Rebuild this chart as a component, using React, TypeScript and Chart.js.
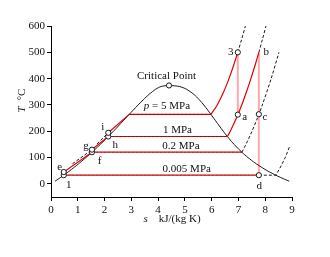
import { useEffect, useRef } from 'react';
import { Chart, registerables } from 'chart.js';

Chart.register(...registerables);

// ---- axes ----
const xTicks = [0, 1, 2, 3, 4, 5, 6, 7, 8, 9];
const yTicks = [0, 100, 200, 300, 400, 500, 600];

// ---- saturation dome (steam tables) ----
const satT = [10, 20, 30, 40, 50, 60, 80, 100, 120, 140, 160, 180, 200, 220, 240, 260, 280, 300, 320, 340, 360, 370, 373.95];
const satLiqS = [0.151, 0.2966, 0.4369, 0.5724, 0.7038, 0.8313, 1.0753, 1.3069, 1.5276, 1.7391, 1.9427, 2.1396, 2.3309, 2.5178, 2.7015, 2.8838, 3.0668, 3.2534, 3.448, 3.6594, 3.9147, 4.1106, 4.407];
const satVapS = [8.9008, 8.6672, 8.452, 8.2569, 8.0763, 7.9096, 7.6122, 7.3549, 7.1296, 6.9299, 6.7502, 6.5857, 6.4323, 6.2861, 6.1437, 6.0019, 5.8571, 5.7045, 5.5362, 5.3357, 5.0526, 4.8012, 4.407];

// ---- isobars ----
// 5 MPa
const p5LiqS = [2.1387, 2.9202];
const p5LiqT = [194, 263.99];
const p5BoilS = [2.9202, 5.9734];
const p5BoilT = [263.99, 263.99];
const p5SupS = [5.9734, 6.2084, 6.4493, 6.6459, 6.8186, 6.9759];
const p5SupT = [263.99, 300, 350, 400, 450, 500];
const p5DashS = [6.9759, 7.1217, 7.2589];
const p5DashT = [500, 550, 600];
const p5LowDashS = [1.72, 2.1387];
const p5LowDashT = [152, 194];
// 1 MPa
const p1LiqS = [1.5301, 1.5301, 2.1387];
const p1LiqT = [120.23, 130, 179.91];
const p1BoilS = [2.1387, 6.5865];
const p1BoilT = [179.91, 179.91];
const p1SupS = [6.5865, 6.694, 6.9247, 7.1229, 7.3011, 7.4651, 7.619, 7.7622];
const p1SupT = [179.91, 200, 250, 300, 350, 400, 450, 500];
const p1DashS = [7.7622, 7.8985, 8.029];
const p1DashT = [500, 550, 600];
const p1LowDashS = [0.8, 1.5301];
const p1LowDashT = [76, 130];
// 0.2 MPa
const p02LiqS = [0.4764, 0.4764, 1.5301];
const p02LiqT = [32.88, 45, 120.23];
const p02BoilS = [1.5301, 7.1271];
const p02BoilT = [120.23, 120.23];
const p02DashS = [7.1271, 7.2795, 7.5066, 7.7085, 7.8926, 8.2218, 8.5133];
const p02DashT = [120.23, 150, 200, 250, 300, 400, 500];
// 0.005 MPa
const p0005BoilS = [0.4764, 7.7622];
const p0005BoilT = [32.88, 32.88];
const p0005DashS = [7.7622, 8.3951, 8.55, 8.75, 8.92];
const p0005DashT = [32.88, 32.88, 60, 100, 145];
// pump leg h -> i
const pumpHiS = [2.1387, 2.1387];
const pumpHiT = [179.91, 194];

// ---- turbine expansions ----
const exp3aS = [6.9759, 6.9759];
const exp3aT = [500, 263];
const expBdS = [7.7622, 7.7622];
const expBdT = [500, 32.88];

// ---- state points ----
const ptNames = ['1', 'e', 'f', 'g', 'h', 'i', '3', 'a', 'b', 'c', 'd'];
const ptS = [0.4764, 0.4764, 1.5301, 1.5301, 2.1387, 2.1387, 6.9759, 6.9759, 7.7622, 7.7622, 7.7622];
const ptT = [32.88, 45, 120.23, 130, 179.91, 194, 500, 263, 500, 264.6, 32.88];
const critS = [4.407];
const critT = [373.95];

// ---- isobar labels ----
const isoLabels = ['p = 5 MPa', '1 MPa', '0.2 MPa', '0.005 MPa'];
const isoLabelS = [4.33, 4.72, 4.85, 5.07];
const isoLabelT = [263.99, 179.91, 120.23, 32.88];

const FONT = "'Liberation Serif', 'Times New Roman', serif";
const RED = '#e00000';
const PINK = 'rgba(255,110,110,0.6)';

// label offsets in pixels (style)
const ptLabelOffset: Record<string, [number, number]> = {
  '1': [5, 10], e: [-4, -5], f: [7.5, 8.5], g: [-6, -3.5], h: [7, 8.5], i: [-5.5, -6],
  '3': [-7, 0], a: [7, 2.5], b: [7.5, 0], c: [6, 2.5], d: [0.5, 11],
};

const pts = (s: number[], t: number[]) => s.map((v, i) => ({ x: v, y: t[i] }));

const line = (data: any[], color: string, width: number, order: number, dash: number[] = [], tension = 0) => ({
  data,
  showLine: true,
  borderColor: color,
  borderWidth: width,
  borderDash: dash,
  pointRadius: 0,
  pointHoverRadius: 0,
  tension,
  fill: false,
  order,
});

const textPlugin = {
  id: 'texts',
  afterDatasetsDraw(chart: any) {
    const { ctx, chartArea, scales } = chart;
    const xs = scales.x;
    const ys = scales.y;
    ctx.save();
    ctx.fillStyle = '#111';
    ctx.textBaseline = 'middle';
    ctx.textAlign = 'center';
    ctx.font = `11px ${FONT}`;
    // point labels
    ptNames.forEach((n, i) => {
      const off = ptLabelOffset[n] || [0, 0];
      ctx.fillText(n, xs.getPixelForValue(ptS[i]) + off[0], ys.getPixelForValue(ptT[i]) + off[1]);
    });
    // critical point
    ctx.fillText('Critical Point', xs.getPixelForValue(critS[0]) - 2.5, ys.getPixelForValue(critT[0]) - 9.5);
    // isobar labels
    isoLabels.forEach((lab, i) => {
      const x = xs.getPixelForValue(isoLabelS[i]);
      const y = ys.getPixelForValue(isoLabelT[i]) - (i === 0 ? 8.5 : 6.5);
      if (lab.startsWith('p ')) {
        const rest = lab.slice(1);
        ctx.font = `italic 11px ${FONT}`;
        const w1 = ctx.measureText('p').width;
        ctx.font = `11px ${FONT}`;
        const w2 = ctx.measureText(rest).width;
        const x0 = x - (w1 + w2) / 2;
        ctx.textAlign = 'left';
        ctx.font = `italic 11px ${FONT}`;
        ctx.fillText('p', x0, y);
        ctx.font = `11px ${FONT}`;
        ctx.fillText(rest, x0 + w1, y);
        ctx.textAlign = 'center';
      } else {
        ctx.fillText(lab, x, y);
      }
    });
    // x axis title
    {
      const cx = (chartArea.left + chartArea.right) / 2 + 0.5;
      const y = chartArea.bottom + 25;
      ctx.textBaseline = 'alphabetic';
      ctx.font = `italic 11px ${FONT}`;
      const w1 = ctx.measureText('s').width;
      ctx.font = `11px ${FONT}`;
      const t2 = 'kJ/(kg K)';
      const w2 = ctx.measureText(t2).width;
      const gap = 11;
      const x0 = cx - (w1 + gap + w2) / 2;
      ctx.textAlign = 'left';
      ctx.font = `italic 11px ${FONT}`;
      ctx.fillText('s', x0, y);
      ctx.font = `11px ${FONT}`;
      ctx.fillText(t2, x0 + w1 + gap, y);
    }
    // y axis title
    {
      ctx.translate(22, 100.5);
      ctx.rotate(-Math.PI / 2);
      ctx.textBaseline = 'middle';
      ctx.font = `italic 11px ${FONT}`;
      const w1 = ctx.measureText('T').width;
      ctx.font = `11px ${FONT}`;
      const t2 = '°C';
      const w2 = ctx.measureText(t2).width;
      const gap = 6;
      const x0 = -(w1 + gap + w2) / 2;
      ctx.textAlign = 'left';
      ctx.font = `italic 11px ${FONT}`;
      ctx.fillText('T', x0, 0);
      ctx.font = `11px ${FONT}`;
      ctx.fillText(t2, x0 + w1 + gap, 0);
    }
    ctx.restore();
  },
};

export default function App() {
  const ref = useRef<HTMLCanvasElement | null>(null);

  useEffect(() => {
    if (!ref.current) return;
    const dome = [
      ...pts(satLiqS, satT),
      ...pts(satVapS, satT).reverse().slice(1),
    ];
    const tickFont = { family: FONT, size: 11 };
    const chart = new Chart(ref.current, {
      type: 'scatter',
      data: {
        datasets: [
          // turbine expansions (pink)
          line(pts(exp3aS, exp3aT), PINK, 2, 9),
          line(pts(expBdS, expBdT), PINK, 2, 9),
          // saturation dome
          line(dome, '#000', 0.9, 8, [], 0.25),
          // dashed isobar parts
          line(pts(p5DashS, p5DashT), '#000', 0.9, 7, [3, 2], 0.3),
          line(pts(p1DashS, p1DashT), '#000', 0.9, 7, [3, 2], 0.3),
          line(pts(p02DashS, p02DashT), '#000', 0.9, 7, [3, 2], 0.3),
          line(pts(p0005DashS, p0005DashT), '#000', 0.9, 7, [3, 2], 0),
          line(pts(p5LowDashS, p5LowDashT), '#000', 0.9, 7, [3, 2], 0),
          line(pts(p1LowDashS, p1LowDashT), '#000', 0.9, 7, [3, 2], 0),
          // cycle (red)
          line(pts(p02LiqS, p02LiqT), RED, 1.2, 5),
          line(pts(p1LiqS, p1LiqT), RED, 1.2, 5),
          line(pts(pumpHiS, pumpHiT), RED, 1.2, 5),
          line(pts(p5LiqS, p5LiqT), RED, 1.2, 5),
          line(pts(p5BoilS, p5BoilT), RED, 1.2, 5),
          line(pts(p5SupS, p5SupT), RED, 1.2, 5, [], 0.3),
          line(pts(p1BoilS, p1BoilT), RED, 1.2, 5),
          line(pts(p1SupS, p1SupT), RED, 1.2, 5, [], 0.3),
          line(pts(p02BoilS, p02BoilT), RED, 1.2, 5),
          line(pts(p0005BoilS, p0005BoilT), RED, 1.2, 5),
          // dashed overlay on horizontal isobars
          line(pts(p5BoilS, p5BoilT), 'rgba(0,0,0,0.35)', 0.7, 2, [2, 2]),
          line(pts(p1BoilS, p1BoilT), 'rgba(0,0,0,0.35)', 0.7, 2, [2, 2]),
          line(pts(p02BoilS, p02BoilT), 'rgba(0,0,0,0.35)', 0.7, 2, [2, 2]),
          line(pts(p0005BoilS, p0005BoilT), 'rgba(0,0,0,0.35)', 0.7, 2, [2, 2]),
          // state points
          {
            data: pts(ptS, ptT),
            showLine: false,
            pointRadius: (c: any) => (ptNames[c.dataIndex] === 'b' ? 0 : 2.6),
            pointHoverRadius: 0,
            pointBackgroundColor: '#fff',
            pointBorderColor: '#000',
            pointBorderWidth: 0.9,
            order: 0,
          },
          {
            data: pts(critS, critT),
            showLine: false,
            pointRadius: 2.6,
            pointHoverRadius: 0,
            pointBackgroundColor: '#fff',
            pointBorderColor: '#000',
            pointBorderWidth: 0.9,
            order: 0,
          },
        ] as any,
      },
      options: {
        animation: false,
        responsive: false,
        maintainAspectRatio: false,
        events: [],
        layout: { padding: { left: 0, right: 38, top: 26, bottom: 0 } },
        plugins: { legend: { display: false }, tooltip: { enabled: false } },
        scales: {
          x: {
            type: 'linear',
            min: 0,
            max: 9,
            afterBuildTicks: (s: any) => { s.ticks = xTicks.map((v) => ({ value: v })); },
            afterFit: (s: any) => { s.height = 60; },
            grid: { display: true, drawOnChartArea: false, drawTicks: true, tickLength: 4, color: '#000' },
            border: { display: true, color: '#000', width: 1 },
            ticks: { color: '#111', font: tickFont, padding: 3, maxRotation: 0, autoSkip: false },
          },
          y: {
            type: 'linear',
            min: -50,
            max: 600,
            afterBuildTicks: (s: any) => { s.ticks = yTicks.map((v) => ({ value: v })); },
            afterFit: (s: any) => { s.width = 51; },
            grid: { display: true, drawOnChartArea: false, drawTicks: true, tickLength: 4, color: '#000' },
            border: { display: true, color: '#000', width: 1 },
            ticks: { color: '#111', font: tickFont, padding: 2, autoSkip: false },
          },
        },
      } as any,
      plugins: [textPlugin],
    });
    return () => chart.destroy();
  }, []);

  return (
    <div style={{ position: 'absolute', left: 0, top: 0, width: 330, height: 257, background: '#fff' }}>
      <canvas ref={ref} width={330} height={257} style={{ width: 330, height: 257, display: 'block' }} />
    </div>
  );
}
